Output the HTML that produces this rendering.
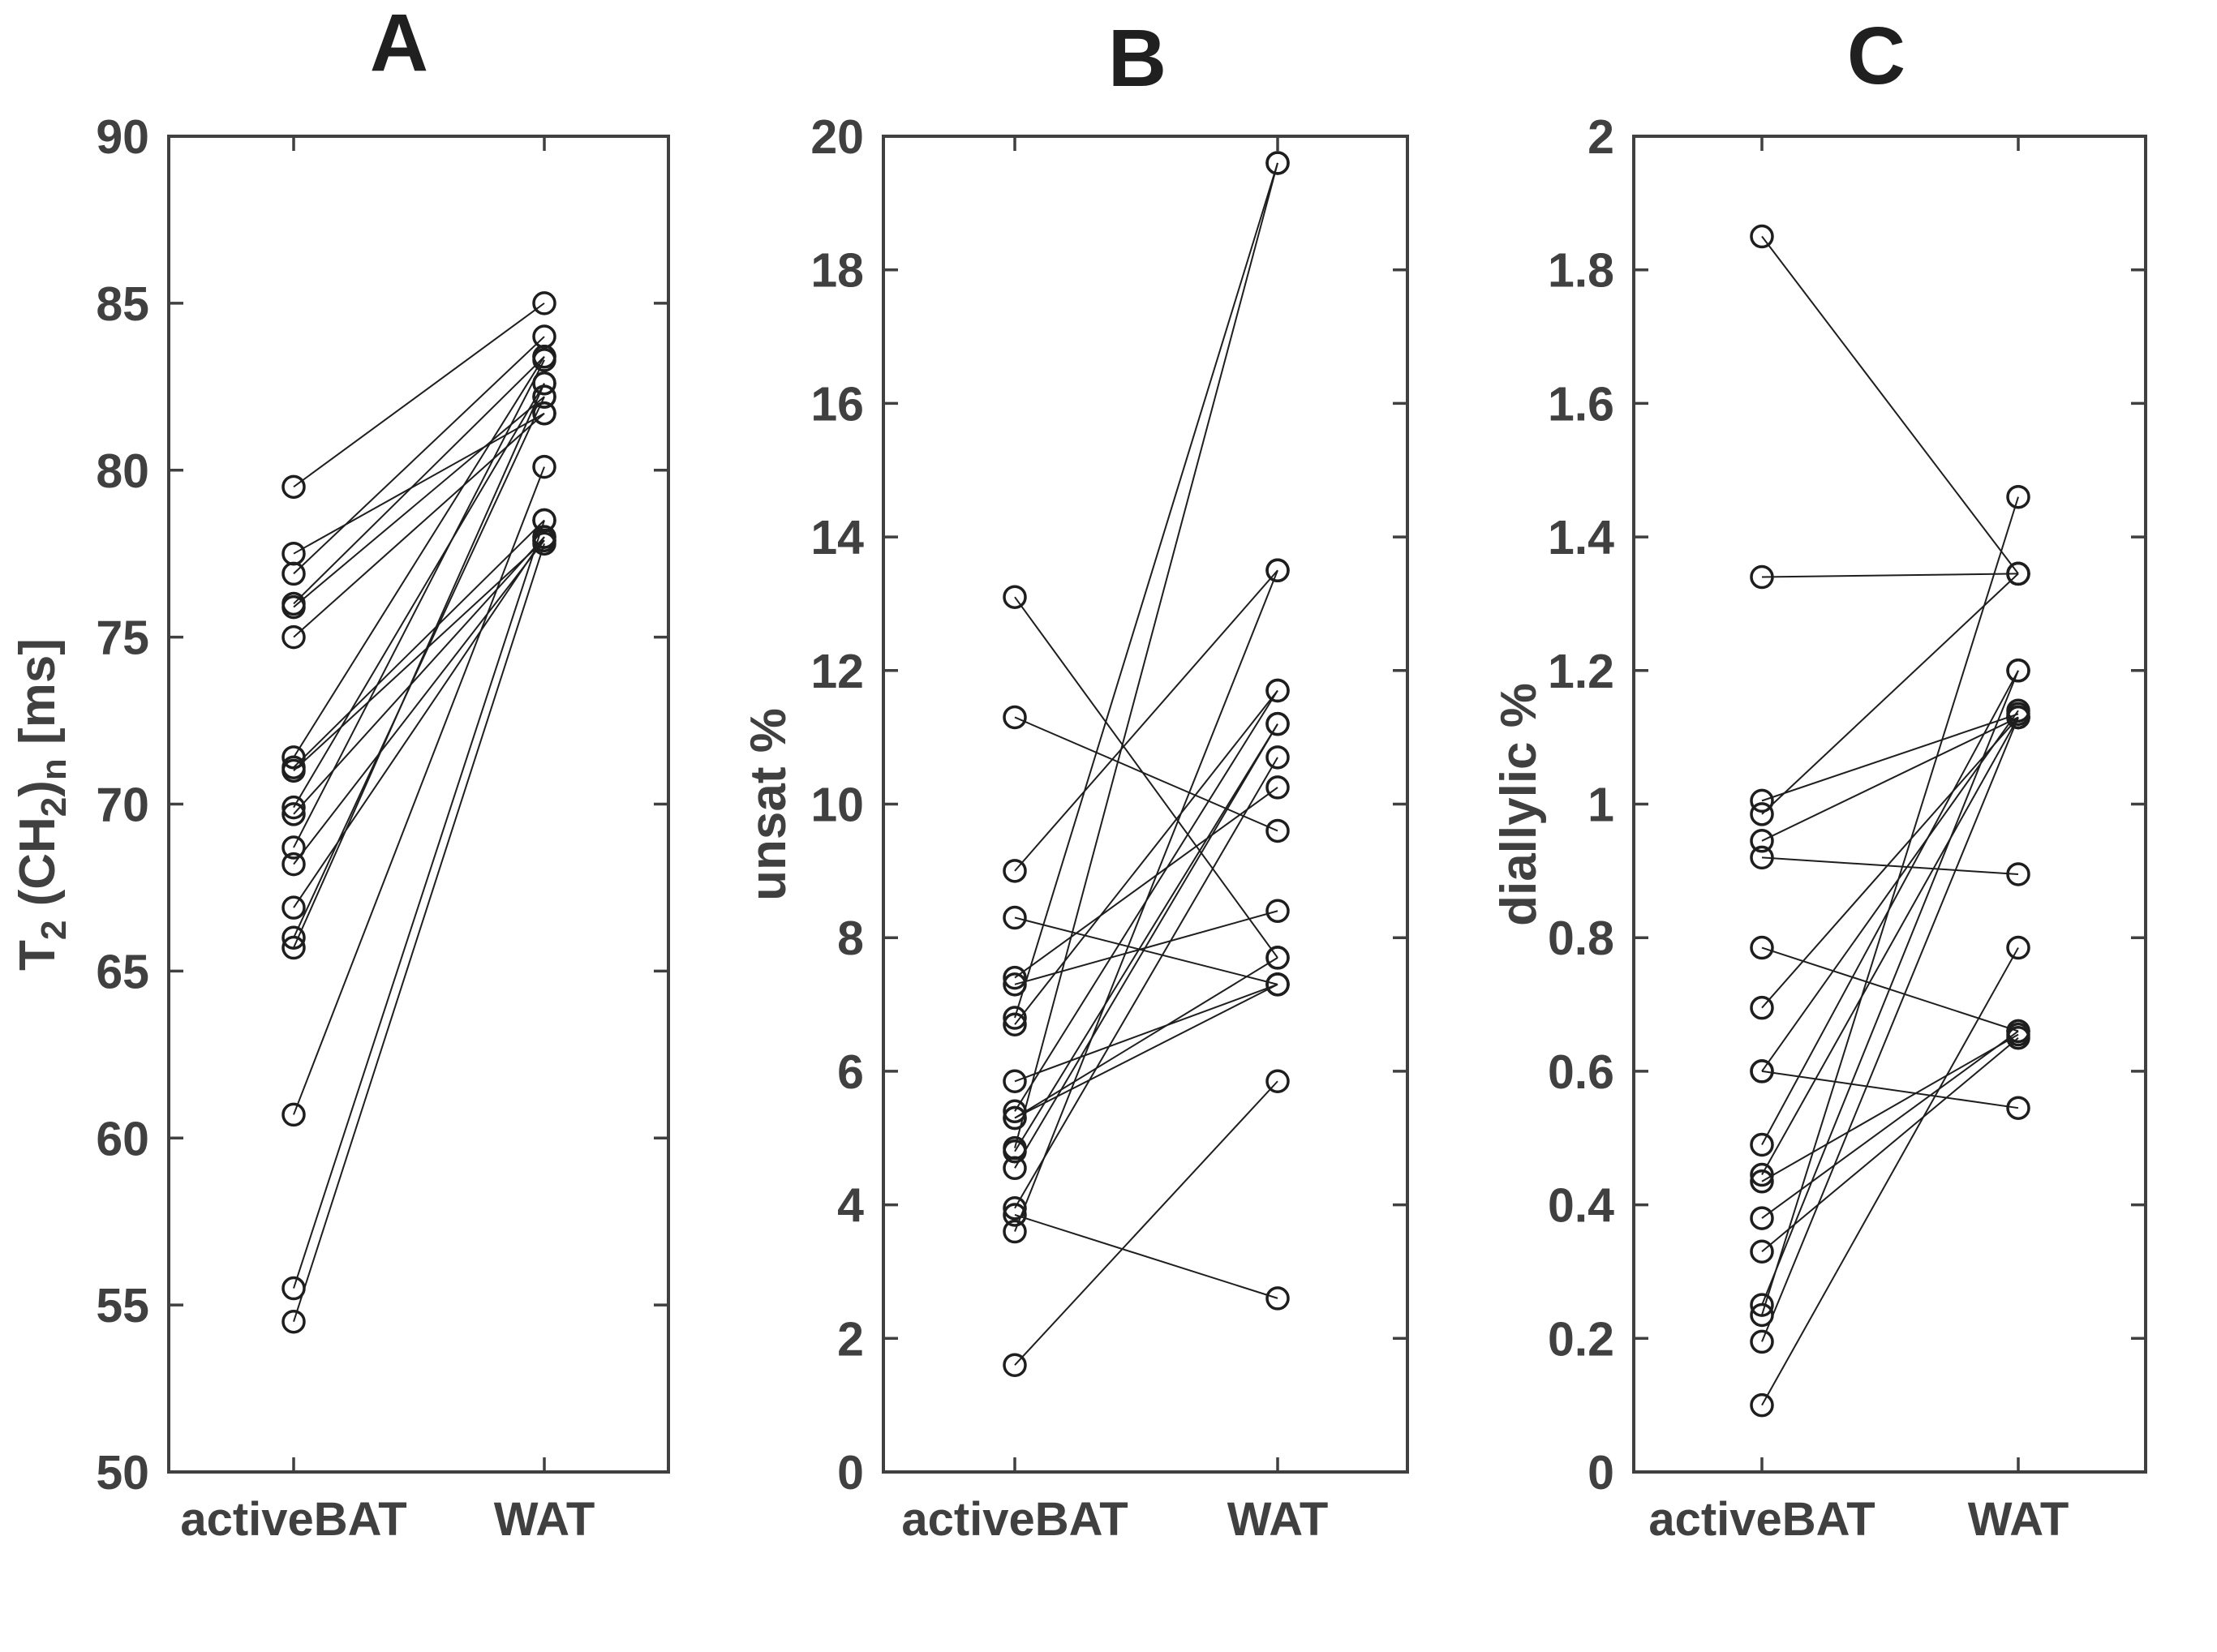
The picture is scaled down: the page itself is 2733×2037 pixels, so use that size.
<!DOCTYPE html>
<html><head><meta charset="utf-8"><style>
html,body{margin:0;padding:0;background:#fff;}
svg{display:block;font-family:"Liberation Sans",sans-serif;font-weight:bold;}
</style></head><body>
<svg id="fig" width="2733" height="2037" viewBox="0 0 2733 2037" xmlns="http://www.w3.org/2000/svg"></svg>
<script>
const categories = ["activeBAT", "WAT"];
// Panel A: T2 (CH2)n [ms]
const aBAT = [79.5, 77.5, 76.9, 76.0, 75.9, 75.0, 71.4, 71.1, 71.0, 69.9, 69.7, 68.7, 68.2, 66.9, 66.0, 65.7, 60.7, 55.5, 54.5];
const aWAT = [85.0, 81.7, 84.0, 83.4, 82.2, 81.7, 83.4, 78.5, 77.9, 82.6, 78.0, 83.3, 77.9, 78.0, 82.2, 82.6, 80.1, 78.5, 77.8];
const aTicks = [50, 55, 60, 65, 70, 75, 80, 85, 90];
// Panel B: unsat %
const bBAT = [13.1, 11.3, 9.0, 8.3, 7.4, 7.3, 6.8, 6.7, 5.85, 5.4, 5.3, 5.3, 4.85, 4.8, 4.55, 3.95, 3.85, 3.6, 1.6];
const bWAT = [7.7, 9.6, 13.5, 7.3, 10.25, 8.4, 19.6, 11.7, 7.3, 11.7, 7.7, 7.3, 19.6, 11.2, 11.2, 10.7, 2.6, 13.5, 5.85];
const bTicks = [0, 2, 4, 6, 8, 10, 12, 14, 16, 18, 20];
// Panel C: diallylic %
const cBAT = [1.85, 1.34, 1.005, 0.985, 0.945, 0.92, 0.785, 0.695, 0.60, 0.60, 0.49, 0.445, 0.435, 0.38, 0.33, 0.25, 0.235, 0.195, 0.10];
const cWAT = [1.345, 1.345, 1.135, 1.345, 1.13, 0.895, 0.66, 1.13, 1.14, 0.545, 1.20, 1.13, 0.655, 0.66, 0.65, 1.20, 1.46, 1.13, 0.785];
const cTicks = [0, 0.2, 0.4, 0.6, 0.8, 1, 1.2, 1.4, 1.6, 1.8, 2];

const NS = "http://www.w3.org/2000/svg";
const svg = document.getElementById("fig");
function mk(tag, attrs, parent) {
  const e = document.createElementNS(NS, tag);
  for (const k in attrs) e.setAttribute(k, attrs[k]);
  (parent || svg).appendChild(e);
  return e;
}
const AX = "#404040";
function panel(cfg) {
  const g = mk("g", {});
  
  
  const top = 168, bot = 1815;
  const yS = v => bot - (v - cfg.min) / (cfg.max - cfg.min) * (bot - top);
  const xS = i => i === 0 ? cfg.xb : cfg.xw;
  // title
  const t = mk("text", {x: cfg.tx, y: cfg.ty, "text-anchor": "middle", "font-size": 100, fill: "#202020"}, g);
  t.textContent = cfg.id;
  
  
  // ticks + labels
  cfg.ticks.forEach(v => {
    const y = yS(v);
    const tl = mk("line", {x1: cfg.l, x2: cfg.l + 18, y1: y, y2: y, stroke: AX, "stroke-width": 3.5}, g);
    
    
    const tr = mk("line", {x1: cfg.r - 18, x2: cfg.r, y1: y, y2: y, stroke: AX, "stroke-width": 3.5}, g);
    
    
    const lb = mk("text", {x: cfg.l - 24, y: y + 21, "text-anchor": "end", "font-size": 59, fill: AX}, g);
    lb.textContent = String(v);
    
    
  });
  categories.forEach((c, i) => {
    const x = xS(i);
    const t1 = mk("line", {x1: x, x2: x, y1: bot, y2: bot - 18, stroke: AX, "stroke-width": 3.5}, g);
    
    
    const t2 = mk("line", {x1: x, x2: x, y1: top, y2: top + 18, stroke: AX, "stroke-width": 3.5}, g);
    
    
    const lb = mk("text", {x: x, y: 1893, "text-anchor": "middle", "font-size": 58, fill: AX}, g);
    lb.textContent = c;
    
    
  });
  const box = mk("rect", {x: cfg.l, y: top, width: cfg.r - cfg.l, height: bot - top, fill: "none", stroke: AX, "stroke-width": 4}, g);
  
  
  // y label
  const yl = mk("text", {transform: `translate(${cfg.ylx},992) rotate(-90)`, "text-anchor": "middle", "font-size": 62, fill: AX}, g);
  
  
  yl.innerHTML = cfg.ylabel;
  // series
  cfg.bat.forEach((v, i) => {
    const ln = mk("line", {x1: xS(0), y1: yS(v), x2: xS(1), y2: yS(cfg.wat[i]), stroke: "#1e1e1e", "stroke-width": 2}, g);
    
    
  });
  cfg.bat.forEach((v, i) => {
    const c1 = mk("circle", {cx: xS(0), cy: yS(v), r: 13, fill: "none", stroke: "#1e1e1e", "stroke-width": 3.5}, g);
    
    
    const c2 = mk("circle", {cx: xS(1), cy: yS(cfg.wat[i]), r: 13, fill: "none", stroke: "#1e1e1e", "stroke-width": 3.5}, g);
    
    
  });
}
panel({id: "A", l: 208, r: 824, xb: 362, xw: 671, tx: 492, ty: 87, min: 50, max: 90, ticks: aTicks, bat: aBAT, wat: aWAT, ylx: 67,
  ylabel: 'T<tspan dy="14" font-size="44">2</tspan><tspan dy="-14"> (CH</tspan><tspan dy="14" font-size="44">2</tspan><tspan dy="-14">)</tspan><tspan dy="14" font-size="44">n</tspan><tspan dy="-14"> [ms]</tspan>'});
panel({id: "B", l: 1089, r: 1735, xb: 1251, xw: 1575, tx: 1402, ty: 106, min: 0, max: 20, ticks: bTicks, bat: bBAT, wat: bWAT, ylx: 968, ylabel: 'unsat %'});
panel({id: "C", l: 2014, r: 2645, xb: 2172, xw: 2488, tx: 2313, ty: 103, min: 0, max: 2, ticks: cTicks, bat: cBAT, wat: cWAT, ylx: 1893, ylabel: 'diallylic %'});
</script>
</body></html>
